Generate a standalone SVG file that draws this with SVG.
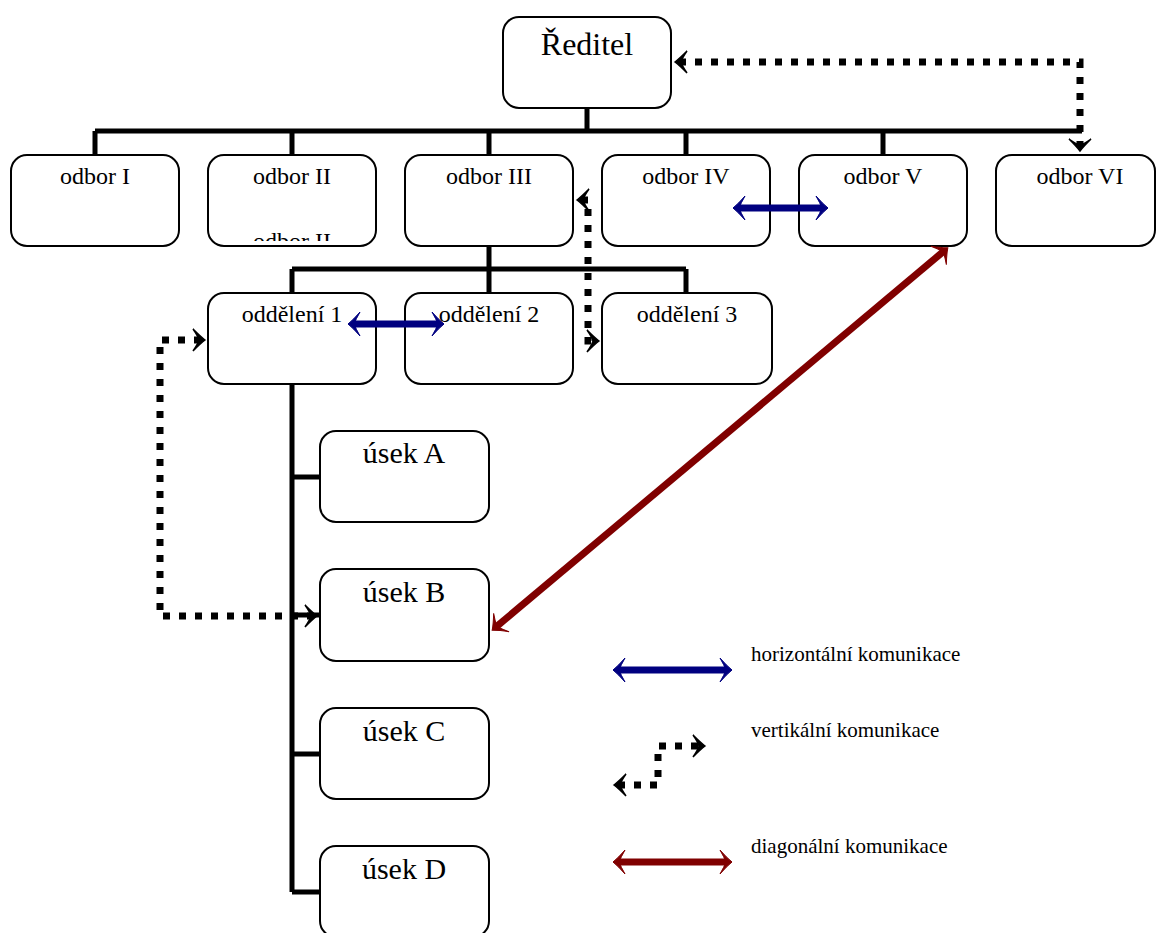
<svg xmlns="http://www.w3.org/2000/svg" width="1156" height="933" viewBox="0 0 1156 933">
<style>
.box{fill:#fff;stroke:#000;stroke-width:2}
.t{font-family:"Liberation Serif","Times New Roman",serif;fill:#000;text-anchor:middle}
.lg{font-family:"Liberation Serif","Times New Roman",serif;fill:#000;font-size:21px}
.tree{fill:none;stroke:#000;stroke-width:5}
.dot{fill:none;stroke:#000;stroke-width:7;stroke-dasharray:7 9;marker-start:url(#mk);marker-end:url(#mk)}
.hz{fill:none;stroke:#000080;stroke-width:7;marker-start:url(#mb);marker-end:url(#mb)}
.dg{fill:none;stroke:#800000;stroke-width:7;marker-start:url(#mr);marker-end:url(#mr)}
</style>
<defs>
<marker id="mb" markerUnits="userSpaceOnUse" viewBox="-14 -14 16 28" refX="-5" refY="0" markerWidth="16" markerHeight="28" orient="auto-start-reverse">
<path d="M0,0 Q-5,-4 -12,-12 Q-8,-5 -6,0 Q-8,5 -12,12 Q-5,4 0,0 Z" fill="#000080" stroke="#000080" stroke-width="1"/>
</marker>
<marker id="mr" markerUnits="userSpaceOnUse" viewBox="-14 -14 16 28" refX="-5" refY="0" markerWidth="16" markerHeight="28" orient="auto-start-reverse">
<path d="M0,0 Q-5,-4 -12,-12 Q-8,-5 -6,0 Q-8,5 -12,12 Q-5,4 0,0 Z" fill="#800000" stroke="#800000" stroke-width="1"/>
</marker>
<marker id="mk" markerUnits="userSpaceOnUse" viewBox="-14 -13 16 26" refX="-4" refY="0" markerWidth="16" markerHeight="26" orient="auto-start-reverse">
<path d="M0,0 Q-4,-3 -12,-11 Q-7,-4 -6,0 Q-7,4 -12,11 Q-4,3 0,0 Z" fill="#000" stroke="#000" stroke-width="1.5"/>
</marker>
<clipPath id="c2"><rect x="208" y="156" width="168" height="85"/></clipPath>
</defs>

<g id="reditel"><rect class="box" x="503" y="17" width="168" height="91" rx="16"/><text class="t" x="587" y="55" font-size="32">Ředitel</text></g>

<g id="odbor1"><rect class="box" x="11" y="155" width="168" height="91" rx="16"/><text class="t" x="95" y="184" font-size="24">odbor I</text></g>
<g id="odbor2"><rect class="box" x="208" y="155" width="168" height="91" rx="16"/><text class="t" x="292" y="184" font-size="24">odbor II</text><text class="t" x="292" y="249" font-size="24" clip-path="url(#c2)">odbor II</text></g>
<g id="odbor3"><rect class="box" x="405" y="155" width="168" height="91" rx="16"/><text class="t" x="489" y="184" font-size="24">odbor III</text></g>
<g id="odbor4"><rect class="box" x="602" y="155" width="168" height="91" rx="16"/><text class="t" x="686" y="184" font-size="24">odbor IV</text></g>
<g id="odbor5"><rect class="box" x="799" y="155" width="168" height="91" rx="16"/><text class="t" x="883" y="184" font-size="24">odbor V</text></g>
<g id="odbor6"><rect class="box" x="996" y="155" width="159" height="91" rx="16"/><text class="t" x="1080" y="184" font-size="24">odbor VI</text></g>

<g id="oddeleni1"><rect class="box" x="208" y="293" width="168" height="91" rx="16"/><text class="t" x="292" y="322" font-size="24">oddělení 1</text></g>
<g id="oddeleni2"><rect class="box" x="405" y="293" width="168" height="91" rx="16"/><text class="t" x="489" y="322" font-size="24">oddělení 2</text></g>
<g id="oddeleni3"><rect class="box" x="602" y="293" width="170" height="91" rx="16"/><text class="t" x="687" y="322" font-size="24">oddělení 3</text></g>

<g id="usekA"><rect class="box" x="320" y="431" width="169" height="91" rx="16"/><text class="t" x="404" y="463" font-size="30">úsek A</text></g>
<g id="usekB"><rect class="box" x="320" y="569" width="169" height="92" rx="16"/><text class="t" x="404" y="602" font-size="30">úsek B</text></g>
<g id="usekC"><rect class="box" x="320" y="708" width="169" height="91" rx="16"/><text class="t" x="404" y="741" font-size="30">úsek C</text></g>
<g id="usekD"><rect class="box" x="320" y="846" width="169" height="91" rx="16"/><text class="t" x="404" y="879" font-size="30">úsek D</text></g>

<g id="connectors">
<path class="tree" d="M587,108 V131 M95,131 H1082 M95,131 V155 M292,131 V155 M489,131 V155 M686,131 V155 M883,131 V155"/>
<path class="tree" d="M489,246 V269 M292,269 H686 M292,269 V293 M489,269 V293 M686,269 V293"/>
<path class="tree" d="M292,384 V892 M292,477 H320 M292,615 H320 M292,754 H320 M292,892 H320"/>
<path class="dot" d="M679,62 H1080 V147"/>
<path class="dot" d="M581,200 H588 V341 H595"/>
<path class="dot" d="M201,340 H160 V616 H313"/>
<path class="hz" d="M738,208 H823"/>
<path class="hz" d="M353,324 H439"/>
<path class="dg" d="M944,251 L496,627"/>
</g>

<g id="legend">
<path class="hz" d="M618,670 H727"/>
<text class="lg" x="751" y="661">horizontální komunikace</text>
<path class="dot" d="M618,785 H658 V746 H701"/>
<text class="lg" x="751" y="737">vertikální komunikace</text>
<path class="dg" d="M618,862 H727"/>
<text class="lg" x="751" y="853">diagonální komunikace</text>
</g>
</svg>
